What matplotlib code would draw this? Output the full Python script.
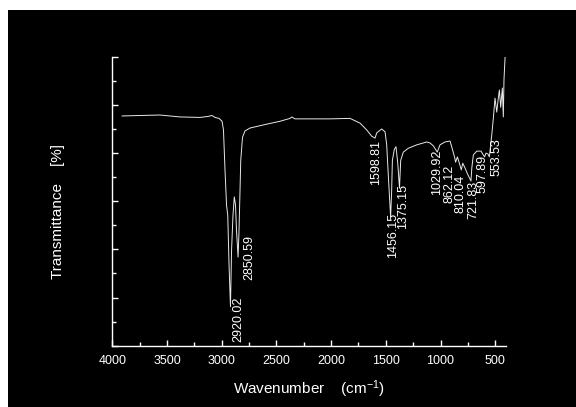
import numpy as np
import matplotlib
matplotlib.use("Agg")
import matplotlib.pyplot as plt
from matplotlib.patches import Rectangle
from matplotlib.ticker import MultipleLocator, NullFormatter

plt.rcParams["font.family"] = ["Liberation Sans", "DejaVu Sans"]
plt.rcParams["mathtext.fontset"] = "custom"
plt.rcParams["mathtext.rm"] = "Liberation Sans"
plt.rcParams["mathtext.it"] = "Liberation Sans:italic"

# IR spectrum (wavenumber in cm-1, transmittance in arbitrary %)
wavenumber = [3911, 3747, 3564, 3381, 3199, 3125, 3089, 3061, 3025, 2997,
              2984, 2970, 2956, 2945, 2933, 2920.02, 2910, 2897, 2885, 2874,
              2865, 2850.59, 2843, 2835, 2826, 2810, 2787, 2741, 2589, 2467,
              2376, 2360, 2330, 2010, 1827, 1735, 1675, 1629, 1598.81, 1583,
              1538, 1507, 1492, 1480, 1456.15, 1447, 1440, 1422, 1407, 1391,
              1375.15, 1364, 1340, 1294, 1218, 1126, 1096, 1066, 1041, 1029.92,
              1005, 960, 913, 889, 870, 862.12, 846, 828, 810.04, 797,
              776, 754, 721.83, 714, 700, 669, 630, 614, 597.89, 584,
              566, 553.53, 532, 517, 502, 486, 474, 462, 450, 435,
              426, 420, 410]
transmittance = [47.7, 47.8, 47.9, 47.5, 47.4, 47.6, 47.8, 47.4, 47.2, 46.6,
                 44.8, 36.5, 29.2, 27.1, 16.7, 8.1, 19.9, 27.1, 30.9, 29.2,
                 24.0, 18.4, 23.0, 30.2, 38.5, 43.3, 44.6, 45.2, 46.0, 46.6,
                 47.2, 47.5, 47.1, 47.1, 47.2, 46.2, 44.8, 43.5, 43.1, 44.2,
                 45.0, 44.4, 41.7, 36.5, 26.7, 32.0, 38.5, 40.8, 41.3, 37.9,
                 32.7, 38.5, 40.2, 41.0, 41.7, 42.3, 42.1, 41.5, 40.6, 40.2,
                 41.7, 42.3, 42.5, 40.6, 39.0, 38.1, 39.2, 37.9, 36.5, 37.9,
                 36.9, 35.7, 34.2, 36.9, 39.6, 40.4, 40.4, 39.8, 39.2, 40.0,
                 39.8, 39.2, 43.7, 47.3, 51.4, 48.5, 51.0, 53.1, 49.5, 53.5,
                 47.5, 55.2, 59.9]

# labelled bands
peak_labels = ["2920.02", "2850.59", "1598.81", "1456.15", "1375.15",
               "1029.92", "862.12", "810.04", "721.83", "597.89", "553.53"]
# label nudges (pixels) so the text clears the trace
label_dx = [8, 11, 1, 2, 4, 0, -6, -1, 2, -2, 7]
label_dy = [10, 22, -2, 4, 4, 2, -3, -5, 0, 2, 19]

fig = plt.figure(figsize=(5.76, 4.07), dpi=100, facecolor="white")
fig.patches.append(Rectangle((8 / 576, 0), 1, 397 / 407, transform=fig.transFigure,
                             facecolor="black", edgecolor="none", zorder=-10))

ax = fig.add_axes([0.195, 0.1506, 0.683, 0.710])
ax.patch.set_alpha(0)
ax.plot(wavenumber, transmittance, color="#e8e8e8", lw=0.7)

ax.set_xlim(4000, 404)
ax.set_ylim(0, 60)

for sp in ["top", "right"]:
    ax.spines[sp].set_visible(False)
for sp in ["left", "bottom"]:
    ax.spines[sp].set_color("white")
    ax.spines[sp].set_linewidth(1.0)

ax.xaxis.set_major_locator(MultipleLocator(500))
ax.xaxis.set_minor_locator(MultipleLocator(250))
ax.yaxis.set_major_locator(MultipleLocator(10))
ax.yaxis.set_minor_locator(MultipleLocator(5))
ax.yaxis.set_major_formatter(NullFormatter())
ax.tick_params(which="both", direction="in", colors="white", width=1.0)
ax.tick_params(which="major", length=4)
ax.tick_params(which="minor", length=3)
ax.tick_params(axis="x", labelsize=9, pad=7, labelcolor="white")

ax.set_xlabel(r"Wavenumber    (cm$^{-1}$)", color="white", fontsize=11)
ax.xaxis.set_label_coords(0.5, -0.112)
ax.set_ylabel("Transmittance    [%]", color="white", fontsize=11)
ax.yaxis.set_label_coords(-0.12, 0.466)

for lab, dx, dy in zip(peak_labels, label_dx, label_dy):
    wn = float(lab)
    t = np.interp(wn, wavenumber[::-1], transmittance[::-1])
    ax.annotate(lab, xy=(wn, t), xytext=(dx, dy), textcoords="offset pixels",
                rotation=90, ha="center", va="top", color="white", fontsize=9)

fig.savefig("out.png", dpi=100, facecolor=fig.get_facecolor())
